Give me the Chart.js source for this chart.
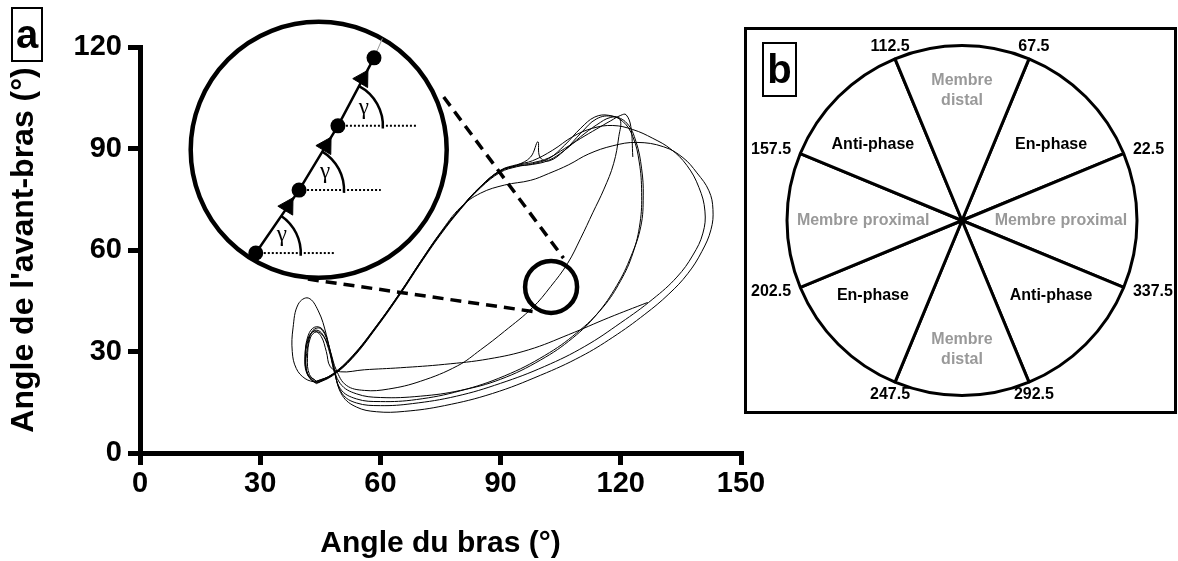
<!DOCTYPE html>
<html>
<head>
<meta charset="utf-8">
<script src="https://cdn.jsdelivr.net/npm/chart.js@4.4.0/dist/chart.umd.min.js"></script>
<style>
  html, body { margin: 0; padding: 0; background: #fff; }
  #wrap { position: relative; width: 1178px; height: 561px; overflow: hidden; font-family: "Liberation Sans", Arial, sans-serif; }
  #chartA { position: absolute; left: 0; top: 0; }
  .tag { position: absolute; box-sizing: border-box; border: 2px solid #000; width: 32px; height: 55px;
         font-weight: bold; font-size: 40px; line-height: 51px; text-align: center; color: #000; }
  #frameB { position: absolute; left: 744px; top: 27px; width: 433px; height: 387px; box-sizing: border-box; border: 3px solid #000; }
  #chartB { position: absolute; left: 744px; top: 27px; }
</style>
</head>
<body>
<div id="wrap">
  <canvas id="chartA" width="1178" height="561"></canvas>
  <div id="frameB"></div>
  <canvas id="chartB" width="433" height="387"></canvas>
  <div class="tag" style="left:11px;top:7px;">a</div>
  <div class="tag" style="left:762px;top:42px;width:35px;">b</div>
</div>
<script>
const FONT = '"Liberation Sans", Arial, sans-serif';

// Panel a : arm angle (x) vs forearm angle (y), degrees
const xTicks = [0, 30, 60, 90, 120, 150];
const yTicks = [0, 30, 60, 90, 120];

// one recording cut into cycles
const traceStart = [[126.7,44.5],[117,40],[107,35],[97,30.5],[87,27.8],[76,26.2],[65,25.2],[56,24.6],[50,24],[47.5,25.5],[46.5,30],[45.2,34.5],[43.5,36],[42,34],[41.2,28.5],[41.8,23.5],[44,21.2]];
const cycle1 = [[44,21.2],[48,23.2],[53,28.5],[59,37.5],[65,47.5],[70,56.5],[75,65],[80,72.3],[85,78.6],[90,83.3],[94,85],[97.5,87.5],[99.3,92],[99.8,87.5],[102,86.3],[106,89.5],[110,94.5],[114,98.8],[118,99.5],[121.5,97.5],[123.8,92],[125.2,84],[125.6,76],[125,67],[122.5,58],[119,49.5],[114,41],[108,34],[100,27.5],[90,21.8],[80,18.5],[70,16.8],[60,16.4],[54,17.5],[50,20.5],[48,27],[46.5,35],[44.5,42],[42,45.8],[39.5,44],[38.2,37],[38,30],[39,25],[41.2,22],[44,20.8]];
const cycle2 = [[44,20.8],[48,23],[53,28.2],[59,37.2],[65,47.2],[70,56.2],[75,64.8],[80,72.2],[85,78.8],[90,83.5],[94,84.8],[98,85.3],[102,86.5],[106,89.5],[110,93.5],[114,97],[117.5,99.2],[119.8,98.6],[119.5,93.5],[118.2,85.5],[115.8,78],[113,71],[110,63.5],[106.7,56],[102.5,49.2],[98,43],[91,36],[85,30.5],[79.3,25.8],[70,21.2],[62,18.9],[56,18.5],[51.5,20],[49,24.5],[47.5,30],[45.8,34.5],[44,35.8],[42.5,34],[41.8,28],[42.3,23.2],[44.2,21]];
const cycle3 = [[44.2,21],[48,23.3],[53,28.7],[59,37.6],[65,47.6],[70,56.6],[75,65.2],[80,72.6],[85,76.8],[91,79.2],[97.5,80.6],[102,82.6],[107,85.2],[112,88.4],[118,90.8],[124,91.8],[130.7,90.5],[135.5,87.3],[139,82.8],[142,77.5],[143,72],[142.5,66],[140.2,59.5],[136.7,53],[132,47],[126,41],[118,34.2],[110,28.5],[100,23],[88,17.6],[76,14],[66,12.3],[59,12.2],[54,13.6],[50.5,17],[48.5,24],[47,31],[45.3,35.5],[43.5,36.2],[42,33.5],[41.3,27.5],[42,22.8],[44,20.5]];
const cycle4 = [[44,20.5],[48,22.8],[53,28],[59,37],[65,47],[70,56],[75,64.5],[80,72],[85,78.4],[90,83],[94,84.6],[98,85.5],[102,87],[106,91],[110,96],[113.5,99.3],[117,99.8],[120.5,98],[123,93.5],[124.6,86],[125.2,77],[124.8,68],[123,59],[120,51],[115.5,43],[109,35.5],[101,28.8],[91,22.8],[80,18.4],[69,15.8],[60,15.2],[54,16],[50,19],[48.3,26],[46.8,33],[45,36.8],[43,36],[41.8,31],[41.5,25],[42.8,21.5],[44.5,20.8]];
const cycle5 = [[44.5,20.8],[48,23],[53,28.4],[59,37.4],[65,47.4],[70,56.4],[75,65],[80,72.4],[85,78.8],[90,83.6],[94,85.2],[98,86.4],[103,89.5],[108,93.5],[113,96],[118,96.8],[123,95.6],[128,93],[132.5,89.8],[136.5,85],[139.5,78.5],[141,71.5],[140.5,65],[138,58.5],[134,52],[128,45.5],[120,38.5],[111,31.5],[101,25.6],[90,20.6],[79,16.8],[68,14.6],[60,14],[54,14.8],[50.5,17.5],[48.5,24],[47.2,31.5],[45.6,36.5],[43.6,37.2],[42,34.8],[41.2,29],[41.6,23.6],[43.6,21]];
const finalCycle = [[43.6,21],[48,23.1],[53,28.4],[59,37.3],[65,47.3],[70,56.3],[75,64.9],[80,72.3],[85,78.7],[90,83.4],[94,85],[98,85.8],[102,87.2],[106,90],[110,93],[114,95.8],[117.5,98.2],[120,99.8],[121.3,100],[122.5,96.5],[123,87.5]];

// magnifier sketch (in the same axis units)
const zoomDots = [[28.9,59.1],[39.7,77.7],[49.4,96.7],[58.4,116.8]];
const zoomArrows = [[36.9,72.9],[46.4,90.8],[55.6,110.6]];
const zoomTail = [[58.4,116.8],[60.5,122.5]];
const gammaEndX = [48.6, 60.1, 69.3];
const bigLens = [[44.6,89.6]];
const smallLens = [[102.6,49.1]];
const dashUpper = [[75.8,105.2],[105.7,57.6]];
const dashLower = [[41.9,51.4],[98.8,41.7]];

// Panel b : coupling-angle sectors
const sectorNames = ['En-phase','Membre proximal','Anti-phase','Membre distal','En-phase','Membre proximal','Anti-phase','Membre distal'];
const boundaryLabels = ['67.5','22.5','337.5','292.5','247.5','202.5','157.5','112.5'];
const sectorSizes = [1, 1, 1, 1, 1, 1, 1, 1];

const pts = arr => arr.map(p => ({ x: p[0], y: p[1] }));

const traceSets = [traceStart, cycle1, cycle2, cycle3, cycle4, cycle5, finalCycle].map(t => ({
    data: pts(t), showLine: true, borderColor: '#000', borderWidth: 1, pointRadius: 0, tension: 0.4, fill: false
}));

const dottedSets = zoomDots.slice(0, 3).map((d, i) => ({
    data: pts([d, [gammaEndX[i], d[1]]]), showLine: true, borderColor: '#000', borderWidth: 2,
    borderDash: [2, 2], pointRadius: 0, clip: false
}));

// draws the gamma arcs at each dot of the magnifier
const gammaMarks = {
    id: 'gammaMarks',
    afterDatasetsDraw(chart) {
        const { ctx, scales: { x, y } } = chart;
        ctx.save();
        ctx.strokeStyle = '#000';
        ctx.lineWidth = 2.5;
        ctx.fillStyle = '#000';
        ctx.font = '23px "Liberation Serif", "DejaVu Serif", serif';
        ctx.textAlign = 'center';
        ctx.textBaseline = 'middle';
        for (let i = 0; i < 3; i++) {
            const px = x.getPixelForValue(zoomDots[i][0]), py = y.getPixelForValue(zoomDots[i][1]);
            const nx = x.getPixelForValue(zoomDots[i + 1][0]), ny = y.getPixelForValue(zoomDots[i + 1][1]);
            const a = Math.atan2(ny - py, nx - px);
            ctx.beginPath();
            ctx.arc(px, py, 45, a, 0.06);
            ctx.stroke();
            ctx.fillText('γ', px + 26, py - 18);
        }
        ctx.restore();
    }
};

const axisGrid = { drawOnChartArea: false, drawTicks: true, tickLength: 12, tickWidth: 5, tickColor: '#000', lineWidth: 5, color: '#000' };
const tickFont = { family: FONT, size: 29, weight: 'bold' };

new Chart(document.getElementById('chartA'), {
    type: 'scatter',
    data: {
        datasets: [
            { data: pts(zoomArrows), pointStyle: 'triangle', rotation: 31, pointRadius: 10, pointBackgroundColor: '#000', pointBorderColor: '#000', pointBorderWidth: 1, showLine: false },
            { data: pts(zoomDots), showLine: true, borderColor: '#000', borderWidth: 2.5, pointRadius: 7.5, pointBackgroundColor: '#000', pointBorderWidth: 0, clip: false },
            { data: pts(zoomTail), showLine: true, borderColor: '#999', borderWidth: 1, pointRadius: 0, clip: false },
            ...dottedSets,
            { data: pts(bigLens), showLine: false, pointRadius: 128, pointBackgroundColor: '#fff', pointBorderColor: '#000', pointBorderWidth: 4.5, clip: false },
            { data: pts(dashUpper), showLine: true, borderColor: '#000', borderWidth: 3.5, borderDash: [11, 7], pointRadius: 0, clip: false },
            { data: pts(dashLower), showLine: true, borderColor: '#000', borderWidth: 3.5, borderDash: [11, 7], pointRadius: 0, clip: false },
            { data: pts(smallLens), showLine: false, pointRadius: 26, pointBackgroundColor: 'rgba(0,0,0,0)', pointBorderColor: '#000', pointBorderWidth: 4.5, clip: false },
            ...traceSets
        ]
    },
    options: {
        responsive: false,
        animation: false,
        events: [],
        layout: { autoPadding: false, padding: { left: 0, top: 47, right: 437, bottom: 0 } },
        plugins: { legend: { display: false }, tooltip: { enabled: false } },
        scales: {
            x: {
                type: 'linear', min: 0, max: 150,
                afterBuildTicks: s => { s.ticks = xTicks.map(v => ({ value: v })); },
                afterFit: s => { s.height = 108; },
                border: { display: true, color: '#000', width: 5 },
                grid: axisGrid,
                ticks: { color: '#000', font: tickFont, padding: 2, maxRotation: 0 },
                title: { display: true, text: 'Angle du bras (°)', color: '#000',
                         font: { family: FONT, size: 30, weight: 'bold', lineHeight: 1 }, padding: { top: 0, bottom: 2 } }
            },
            y: {
                type: 'linear', min: 0, max: 120,
                afterBuildTicks: s => { s.ticks = yTicks.map(v => ({ value: v })); },
                afterFit: s => { s.width = 140; },
                border: { display: true, color: '#000', width: 5 },
                grid: axisGrid,
                ticks: { color: '#000', font: tickFont, padding: 6 },
                title: { display: true, text: "Angle de l'avant-bras (°)", color: '#000',
                         font: { family: FONT, size: 32, weight: 'bold', lineHeight: 1 }, padding: { top: 8, bottom: 0 } }
            }
        }
    },
    plugins: [gammaMarks]
});

// text around and inside the sector wheel
const sectorText = {
    id: 'sectorText',
    afterDraw(chart) {
        const ctx = chart.ctx;
        const arcs = chart.getDatasetMeta(0).data;
        ctx.save();
        ctx.font = 'bold 16px ' + FONT;
        ctx.textBaseline = 'middle';
        arcs.forEach((arc, i) => {
            const { x, y, startAngle, endAngle, outerRadius: r } = arc;
            const c = Math.cos(startAngle), s = Math.sin(startAngle);
            const off = Math.abs(c) > 0.7 ? 10 : 13;
            ctx.textAlign = c > 0.7 ? 'left' : (c < -0.7 ? 'right' : 'center');
            ctx.fillStyle = '#000';
            ctx.fillText(boundaryLabels[i], x + (r + off) * c, y + (r + off) * s);

            const mid = (startAngle + endAngle) / 2;
            const name = sectorNames[i];
            const limb = name.startsWith('Membre');
            const fx = limb ? 0.565 : 0.72, fy = limb ? 0.74 : 0.61;
            const tx = x + Math.cos(mid) * r * fx, ty = y + Math.sin(mid) * r * fy;
            ctx.textAlign = 'center';
            ctx.fillStyle = limb ? '#999' : '#000';
            if (name === 'Membre distal') {
                ctx.fillText('Membre', tx, ty - 10);
                ctx.fillText('distal', tx, ty + 10);
            } else {
                ctx.fillText(name, tx, ty);
            }
        });
        ctx.restore();
    }
};

new Chart(document.getElementById('chartB'), {
    type: 'pie',
    data: {
        labels: sectorNames,
        datasets: [{ data: sectorSizes, backgroundColor: '#fff', borderColor: '#000', borderWidth: 3, hoverOffset: 0 }]
    },
    options: {
        responsive: false,
        animation: false,
        events: [],
        rotation: 22.5,
        layout: { padding: { left: 3, top: 17, bottom: 17, right: 0 } },
        plugins: { legend: { display: false }, tooltip: { enabled: false } }
    },
    plugins: [sectorText]
});
</script>
</body>
</html>
